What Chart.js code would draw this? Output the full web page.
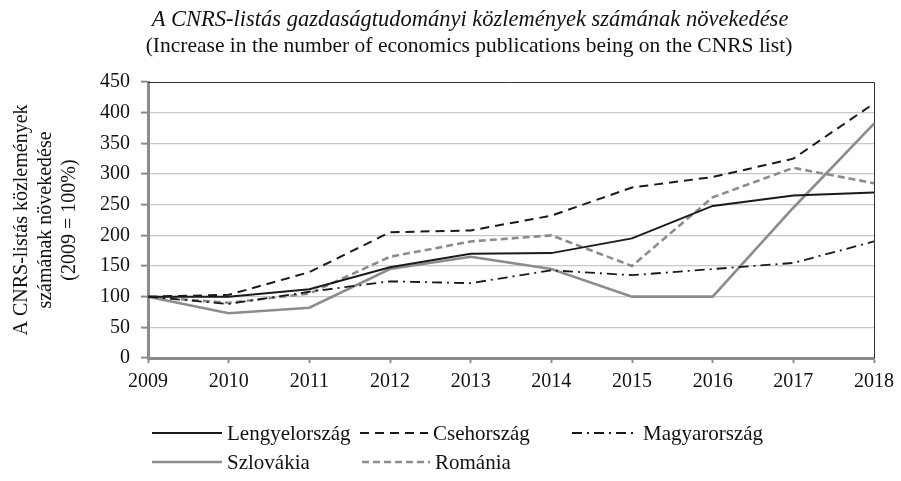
<!DOCTYPE html>
<html>
<head>
<meta charset="utf-8">
<script src="https://cdn.jsdelivr.net/npm/chart.js@4/dist/chart.umd.min.js"></script>
<style>
  html, body { margin: 0; padding: 0; background: #fff; }
  #wrap { position: relative; width: 901px; height: 481px; }
</style>
</head>
<body>
<div id="wrap"><canvas id="chart" width="901" height="481"></canvas></div>
<script>
// adatok (2009 = 100%)
const years = ['2009', '2010', '2011', '2012', '2013', '2014', '2015', '2016', '2017', '2018'];
const lengyelorszag = [100, 100, 112, 148, 170, 171, 195, 248, 265, 270];
const csehorszag    = [100, 103, 140, 205, 208, 232, 278, 295, 325, 415];
const magyarorszag  = [100,  88, 108, 125, 122, 143, 135, 145, 155, 190];
const szlovakia     = [100,  73,  82, 145, 165, 145, 100, 100, 245, 382];
const romania       = [100,  90, 105, 165, 190, 200, 150, 262, 310, 285];
const yTicks = [0, 50, 100, 150, 200, 250, 300, 350, 400, 450];

const titleLines = [
    'A CNRS-listás gazdaságtudományi közlemények számának növekedése',
    '(Increase in the number of economics publications being on the CNRS list)'
];
const yTitle = ['A CNRS-listás közlemények', 'számának növekedése', '(2009 = 100%)'];

const FONT = '"Liberation Serif", "Times New Roman", serif';
const DARK = '#1a1a1a';
const GRAY = '#8c8c8c';

// legenda helyek (sor, vonal kezdete)
const legendPos = [
    {x: 152, y: 433, w: 70},
    {x: 360, y: 433, w: 68},
    {x: 572, y: 433, w: 66},
    {x: 152, y: 462, w: 70},
    {x: 362, y: 462, w: 68}
];

const framePlugin = {
    id: 'frame',
    beforeDatasetsDraw(chart) {
        const ctx = chart.ctx, a = chart.chartArea;
        ctx.save();
        ctx.strokeStyle = '#333';
        ctx.lineWidth = 1;
        ctx.beginPath();
        ctx.moveTo(a.left, a.top + 0.5);
        ctx.lineTo(a.right + 0.5, a.top + 0.5);
        ctx.lineTo(a.right + 0.5, a.bottom);
        ctx.stroke();
        ctx.restore();
    },
    afterDraw(chart) {
        const ctx = chart.ctx;
        ctx.save();
        ctx.fillStyle = '#111';
        ctx.textAlign = 'center';
        ctx.textBaseline = 'middle';
        ctx.font = 'italic 22.5px ' + FONT;
        ctx.fillText(titleLines[0], 470, 20);
        ctx.font = '21.5px ' + FONT;
        ctx.fillText(titleLines[1], 469, 46);

        // legenda
        ctx.textAlign = 'left';
        ctx.font = '21px ' + FONT;
        chart.data.datasets.forEach((ds, i) => {
            const p = legendPos[i];
            ctx.save();
            ctx.strokeStyle = ds.borderColor;
            ctx.lineWidth = ds.borderWidth;
            ctx.setLineDash(ds.borderDash || []);
            ctx.beginPath();
            ctx.moveTo(p.x, p.y);
            ctx.lineTo(p.x + p.w, p.y);
            ctx.stroke();
            ctx.restore();
            ctx.fillStyle = '#111';
            ctx.fillText(ds.label, p.x + p.w + 5, p.y + 1);
        });
        ctx.restore();
    }
};

new Chart(document.getElementById('chart').getContext('2d'), {
    type: 'line',
    data: {
        labels: years,
        datasets: [
            { label: 'Lengyelország', data: lengyelorszag, borderColor: DARK, borderWidth: 2 },
            { label: 'Csehország', data: csehorszag, borderColor: DARK, borderWidth: 2, borderDash: [9, 6] },
            { label: 'Magyarország', data: magyarorszag, borderColor: DARK, borderWidth: 1.8, borderDash: [10, 5, 2, 5] },
            { label: 'Szlovákia', data: szlovakia, borderColor: GRAY, borderWidth: 2.6 },
            { label: 'Románia', data: romania, borderColor: GRAY, borderWidth: 2.6, borderDash: [7, 4] }
        ]
    },
    options: {
        responsive: false,
        animation: false,
        layout: { padding: { left: 0, top: 82, right: 18, bottom: 0 } },
        elements: {
            point: { radius: 0, hoverRadius: 0 },
            line: { tension: 0, fill: false }
        },
        plugins: {
            legend: { display: false },
            title: { display: false },
            tooltip: { enabled: false }
        },
        scales: {
            x: {
                offset: false,
                afterFit(scale) { scale.height = 123; },
                grid: { drawOnChartArea: false, drawTicks: true, tickLength: 5, tickColor: GRAY, tickWidth: 2 },
                border: { color: GRAY, width: 3 },
                ticks: { color: '#111', font: { family: FONT, size: 20 }, padding: 7, maxRotation: 0, autoSkip: false }
            },
            y: {
                min: 0,
                max: 450,
                afterFit(scale) { scale.width = 148; },
                afterBuildTicks(scale) { scale.ticks = yTicks.map(v => ({ value: v })); },
                grid: {
                    color: (c) => c.tick && c.tick.value === 450 ? 'rgba(0,0,0,0)' : '#c8c8c8',
                    lineWidth: 1.2,
                    tickLength: 7,
                    tickColor: GRAY,
                    tickWidth: 2
                },
                border: { color: GRAY, width: 3 },
                ticks: { color: '#111', font: { family: FONT, size: 20 }, padding: 11 },
                title: {
                    display: true,
                    text: yTitle,
                    color: '#111',
                    font: { family: FONT, size: 20, lineHeight: 1.2 },
                    padding: { top: 10, bottom: 0 }
                }
            }
        }
    },
    plugins: [framePlugin]
});
</script>
</body>
</html>
